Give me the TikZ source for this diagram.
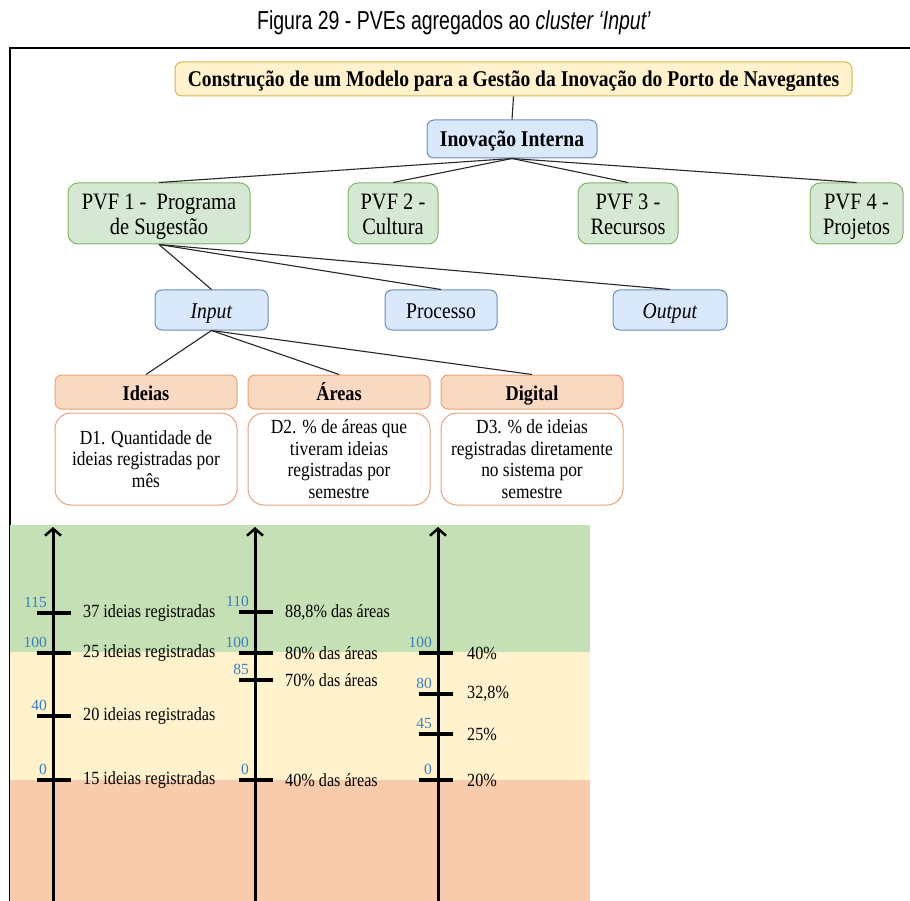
\documentclass[tikz,border=0pt]{standalone}
\usepackage{fontspec}
\setmainfont{Liberation Serif}[FakeStretch=0.87]
\newfontfamily\numfont{Liberation Serif}
\newfontfamily\capfont{Liberation Sans}[FakeStretch=0.75]
\usetikzlibrary{arrows.meta}

\definecolor{ybg}{HTML}{FFF2CC}
\definecolor{yline}{HTML}{D6B656}
\definecolor{bbg}{HTML}{DAE8FC}
\definecolor{bline}{HTML}{6C8EBF}
\definecolor{gbg}{HTML}{D5E8D4}
\definecolor{gline}{HTML}{82B366}
\definecolor{obg}{HTML}{FAD9C3}
\definecolor{oline}{HTML}{E6A27C}
\definecolor{bandg}{HTML}{C5E0B4}
\definecolor{bandy}{HTML}{FFF2CC}
\definecolor{bando}{HTML}{F8CBAD}
\definecolor{numblue}{HTML}{3A7FC0}

\tikzset{
  box/.style={draw, rounded corners=7pt, line width=1pt, align=center,
    inner sep=2pt, font=\fontsize{22.5}{24.5}\selectfont},
  oneline/.style={text height=18pt, text depth=2pt},
  titlebox/.style={box, oneline, fill=ybg, draw=yline, font=\fontsize{22.5}{24}\selectfont\bfseries},
  bluebox/.style={box, oneline, fill=bbg, draw=bline},
  greenbox/.style={box, fill=gbg, draw=gline, rounded corners=10pt,
    text height=44pt, text depth=2pt, font=\fontsize{23.5}{24.5}\selectfont},
  headbox/.style={box, oneline, fill=obg, draw=oline, font=\fontsize{21}{22}\selectfont\bfseries},
  descbox/.style={box, fill=white, draw=oline, rounded corners=16pt,
    font=\fontsize{20}{21.5}\selectfont},
  link/.style={line width=1.1pt, black!85},
  scaleaxis/.style={line width=3pt, -{Straight Barb[length=7pt,width=16pt,line width=2.5pt]}},
  tickmark/.style={line width=3.2pt},
  num/.style={anchor=south east, inner sep=0pt, text=numblue, font=\numfont\fontsize{15.5}{15.5}\selectfont},
  lab/.style={anchor=west, inner sep=0pt, font=\fontsize{18.6}{18.6}\selectfont}
}

\begin{document}
\begin{tikzpicture}[x=1pt, y=-1pt]
  \useasboundingbox (0,0) rectangle (910,901);

  % Caption and frame
  \node[font=\capfont\fontsize{26}{28}\selectfont] (caption) at (454,23)
    {Figura 29 - PVEs agregados ao \textit{cluster ‘Input’}};
  \draw[line width=1.5pt] (10,901) -- (10,48) -- (910,48);

  % Colour bands behind the scales
  \fill[bando] (10,780) rectangle (590,901);
  \fill[bandy] (10,652) rectangle (590,780);
  \fill[bandg] (10,525) rectangle (590,652);

  % Tree
  \node[titlebox, minimum width=677pt, minimum height=34pt] (title) at (513.5,79)
    {Construção de um Modelo para a Gestão da Inovação do Porto de Navegantes};
  \node[bluebox, minimum width=170pt, minimum height=38pt,
    font=\fontsize{22.5}{24}\selectfont\bfseries] (inov) at (512,139) {Inovação Interna};

  \node[greenbox, minimum width=182pt, minimum height=61pt] (pvf1) at (159,213.5)
    {PVF 1 -\ \ Programa\\de Sugestão};
  \node[greenbox, minimum width=90pt, minimum height=61pt] (pvf2) at (393,213.5)
    {PVF 2 -\\Cultura};
  \node[greenbox, minimum width=100pt, minimum height=61pt] (pvf3) at (628,213.5)
    {PVF 3 -\\Recursos};
  \node[greenbox, minimum width=93pt, minimum height=61pt] (pvf4) at (856.5,213.5)
    {PVF 4 -\\Projetos};

  \node[bluebox, minimum width=113pt, minimum height=40pt] (input) at (211.5,310)
    {\textit{Input}};
  \node[bluebox, minimum width=112pt, minimum height=40pt] (proc) at (441,310)
    {Processo};
  \node[bluebox, minimum width=114pt, minimum height=40pt] (output) at (670,310)
    {\textit{Output}};

  \node[headbox, minimum width=182pt, minimum height=34pt] (ideias) at (146,392) {Ideias};
  \node[headbox, minimum width=182pt, minimum height=34pt] (areas) at (339,392) {Áreas};
  \node[headbox, minimum width=182pt, minimum height=34pt] (digital) at (532,392) {Digital};

  \node[descbox, minimum width=182pt, minimum height=92pt] (d1) at (146,459)
    {D1. Quantidade de\\ideias registradas por\\mês};
  \node[descbox, minimum width=182pt, minimum height=92pt] (d2) at (339,459)
    {D2. \% de áreas que\\tiveram ideias\\registradas por\\semestre};
  \node[descbox, minimum width=182pt, minimum height=92pt] (d3) at (532,459)
    {D3. \% de ideias\\registradas diretamente\\no sistema por\\semestre};

  \draw[link] (title.south) -- (inov.north);
  \foreach \p in {pvf1,pvf2,pvf3,pvf4}
    \draw[link] (inov.south) -- (\p.north);
  \foreach \c in {input,proc,output}
    \draw[link] (pvf1.south) -- (\c.north);
  \foreach \h in {ideias,areas,digital}
    \draw[link] (input.south) -- (\h.north);

  % Scales
  \foreach \k/\ax in {1/53, 2/255, 3/438} {
    \coordinate (base\k) at (\ax,901);
    \coordinate (top\k) at (\ax,527);
    \draw[scaleaxis] (base\k) -- (top\k);
  }
  \foreach \y/\num/\lab in {613/115/37 ideias registradas, 653/100/25 ideias registradas,
      716/40/20 ideias registradas, 780/0/15 ideias registradas} {
    \draw[tickmark] (37,\y) -- (71,\y);
    \node[num] (na\num) at (47,\y-5) {\num};
    \node[lab] (la\num) at (83,\y) {\lab};
  }
  \foreach \y/\num/\lab in {612/110/88{,}8\% das áreas, 653/100/80\% das áreas,
      680/85/70\% das áreas, 780/0/40\% das áreas} {
    \draw[tickmark] (239,\y) -- (273,\y);
    \node[num] (nb\num) at (249,\y-5) {\num};
    \node[lab] (lb\num) at (285,\y) {\lab};
  }
  \foreach \y/\num/\lab in {653/100/40\%, 694/80/32{,}8\%, 734/45/25\%, 780/0/20\%} {
    \draw[tickmark] (419,\y) -- (453,\y);
    \node[num] (nc\num) at (432,\y-5) {\num};
    \node[lab] (lc\num) at (467,\y) {\lab};
  }
\end{tikzpicture}
\end{document}
